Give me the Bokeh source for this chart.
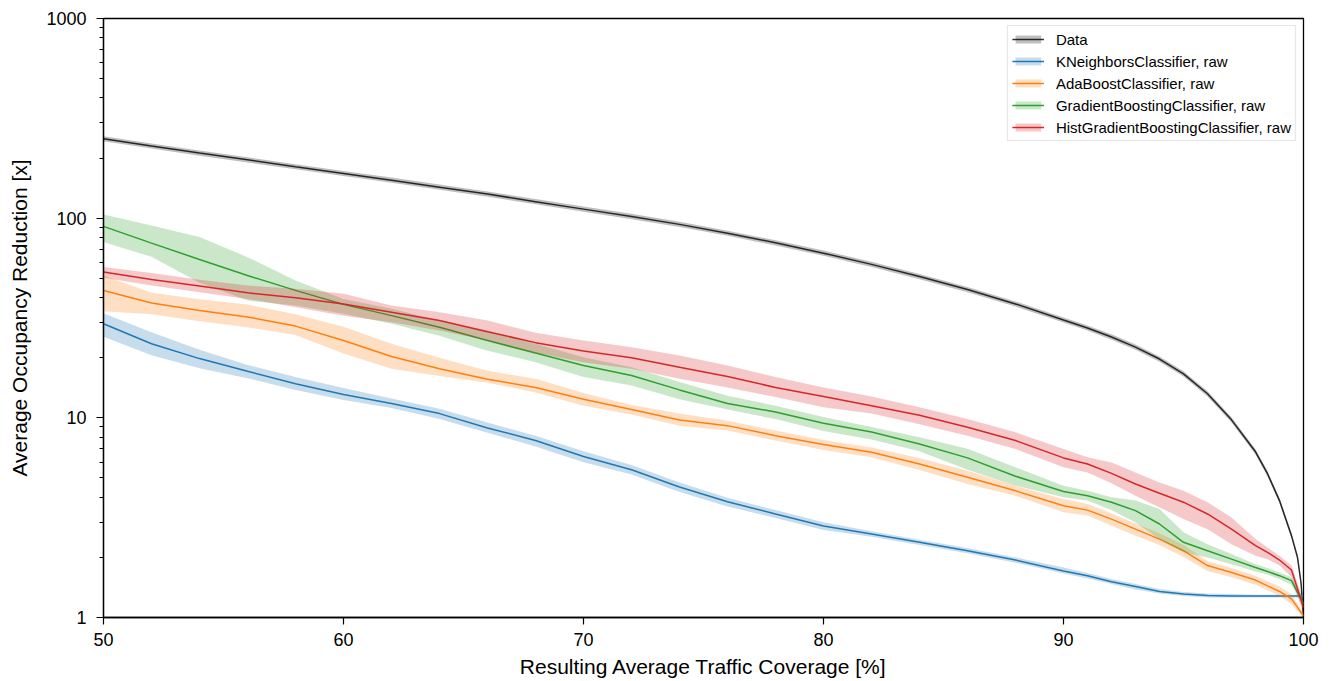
from bokeh.plotting import figure
from bokeh.models import Range1d, FixedTicker, Legend, LegendItem, PrintfTickFormatter
from bokeh.embed import file_html
from bokeh.resources import INLINE

# ---------------- data ----------------
coverage = [50, 52, 54, 56, 58, 60, 62, 64, 66, 68, 70, 72, 74, 76, 78, 80, 82, 84, 86, 88,
            90, 91, 92, 93, 94, 95, 96, 97, 98, 98.5, 99, 99.5, 100]

data_coverage = [50, 52, 54, 56, 58, 60, 62, 64, 66, 68, 70, 72, 74, 76, 78, 80, 82, 84, 86, 88,
                 90, 91, 92, 93, 94, 95, 96, 97, 98, 98.5, 99, 99.5, 99.75, 99.9, 100]
data_mean = [250, 230, 212, 196, 181, 167.5, 155, 143, 132, 121, 111, 102, 93.1, 84.1, 75.3, 66.8, 58.7, 51.0,
             43.9, 37.2, 30.9, 28.2, 25.4, 22.6, 19.7, 16.6, 13.2, 9.77, 6.76, 5.25, 3.85, 2.57, 2.0, 1.48, 1.0]
data_lo = [242.5, 223, 205.6, 190, 175.6, 162.5, 150.4, 138.7, 128, 117.4, 107.7, 98.9, 90.3, 81.6, 73.0, 64.8,
           56.9, 49.5, 42.6, 36.1, 30.0, 27.4, 24.6, 21.9, 19.1, 16.1, 12.8, 9.48, 6.56, 5.09, 3.73, 2.49, 1.94,
           1.44, 0.97]
data_hi = [257.5, 236.9, 218.4, 201.9, 186.4, 172.5, 159.7, 147.3, 136, 124.6, 114.3, 105.1, 95.9, 86.6, 77.6,
           68.8, 60.5, 52.5, 45.2, 38.3, 31.8, 29.0, 26.2, 23.3, 20.3, 17.1, 13.6, 10.06, 6.96, 5.41, 3.97, 2.65,
           2.06, 1.52, 1.03]

knn_mean = [29.6, 23.5, 19.8, 17.1, 14.8, 13.1, 11.8, 10.5, 8.9, 7.7, 6.4, 5.5, 4.5, 3.8, 3.30, 2.87, 2.62,
            2.38, 2.16, 1.94, 1.71, 1.62, 1.51, 1.43, 1.35, 1.31, 1.29, 1.28, 1.28, 1.28, 1.28, 1.28, 1.28]
knn_lo = [25.5, 20.6, 17.7, 15.8, 13.8, 12.3, 11.2, 9.87, 8.43, 7.18, 6.0, 5.2, 4.25, 3.6, 3.15, 2.74, 2.54,
          2.31, 2.10, 1.88, 1.66, 1.57, 1.47, 1.38, 1.32, 1.28, 1.26, 1.26, 1.26, 1.26, 1.26, 1.26, 1.26]
knn_hi = [33.4, 26.8, 21.9, 18.4, 16.0, 14.1, 12.5, 11.1, 9.47, 8.14, 6.8, 5.8, 4.75, 3.98, 3.45, 3.0, 2.70,
          2.45, 2.23, 2.0, 1.78, 1.67, 1.56, 1.47, 1.39, 1.34, 1.32, 1.31, 1.30, 1.30, 1.30, 1.30, 1.30]

ada_mean = [43.4, 37.6, 34.5, 32.0, 28.8, 24.4, 20.3, 17.6, 15.6, 14.2, 12.4, 11.0, 9.76, 9.14, 8.14, 7.35, 6.72,
            5.87, 5.04, 4.31, 3.63, 3.45, 3.11, 2.77, 2.47, 2.16, 1.82, 1.68, 1.54, 1.44, 1.35, 1.24, 1.02]
ada_lo = [34.2, 33.0, 30.5, 28.4, 26.0, 21.0, 17.6, 16.2, 15.0, 13.4, 11.5, 10.4, 9.14, 8.63, 7.69, 6.90, 6.34,
          5.48, 4.66, 4.07, 3.37, 3.24, 2.88, 2.57, 2.31, 2.01, 1.71, 1.59, 1.46, 1.37, 1.28, 1.17, 0.99]
ada_hi = [51.6, 42.3, 39.2, 36.9, 33.0, 28.6, 23.5, 20.0, 17.2, 15.7, 13.3, 11.6, 10.5, 9.68, 8.63, 7.74, 7.11,
          6.3, 5.43, 4.57, 3.92, 3.70, 3.32, 2.96, 2.64, 2.31, 1.92, 1.77, 1.62, 1.52, 1.43, 1.31, 1.05]

gb_mean = [91, 75, 62.1, 51.6, 43.5, 37, 32.5, 28.4, 24.4, 21.1, 18.3, 16.3, 13.8, 11.8, 10.7, 9.4, 8.5, 7.4,
           6.3, 5.1, 4.28, 4.07, 3.78, 3.43, 2.94, 2.38, 2.16, 1.96, 1.78, 1.70, 1.62, 1.53, 1.17]
gb_lo = [75.9, 64, 47.5, 38.7, 36.5, 33.2, 29.6, 25.8, 21.7, 19.0, 16.0, 14.5, 12.4, 11.0, 9.86, 8.6, 7.8, 6.8,
         5.5, 4.57, 4.0, 3.85, 3.45, 2.99, 2.47, 2.12, 2.0, 1.85, 1.70, 1.64, 1.56, 1.46, 1.10]
gb_hi = [104.4, 92, 80.5, 63.8, 48.8, 39.4, 35.2, 30.7, 27.4, 23.5, 20.1, 17.9, 15.1, 12.9, 11.5, 10.1, 9.0,
         8.0, 7.0, 5.65, 4.57, 4.31, 4.0, 3.85, 3.49, 2.67, 2.33, 2.08, 1.85, 1.77, 1.68, 1.59, 1.24]

hgb_mean = [53.7, 49.3, 45.7, 42.3, 39.9, 37.2, 33.8, 30.7, 27.0, 23.8, 21.6, 20, 17.9, 16.1, 14.2, 12.8, 11.5,
            10.3, 8.97, 7.7, 6.3, 5.87, 5.27, 4.66, 4.19, 3.78, 3.30, 2.77, 2.29, 2.12, 1.94, 1.73, 1.12]
hgb_lo = [50.3, 46, 42.6, 39.4, 35.8, 32.5, 30.1, 27.4, 24.4, 21.2, 19.0, 17.6, 15.7, 14.2, 12.7, 11.3, 10.5,
          9.3, 8.14, 6.98, 5.65, 5.33, 4.70, 4.07, 3.56, 3.11, 2.77, 2.33, 2.04, 1.96, 1.82, 1.59, 1.04]
hgb_hi = [56.9, 53.1, 49.1, 46, 44.3, 41.8, 36.5, 33.8, 30.7, 26.7, 24.4, 22.6, 20.5, 18.3, 16.0, 14.2, 12.8,
          11.3, 9.87, 8.47, 6.98, 6.34, 5.98, 5.33, 4.75, 4.31, 3.78, 3.17, 2.47, 2.24, 2.04, 1.82, 1.21]

x_ticks = [50, 60, 70, 80, 90, 100]
y_ticks = [1, 10, 100, 1000]
y_minor = [2, 3, 4, 5, 6, 7, 8, 9, 20, 30, 40, 50, 60, 70, 80, 90, 200, 300, 400, 500, 600, 700, 800, 900]

FONT = "Liberation Sans"

p = figure(width=1336, height=680, x_range=Range1d(50, 100), y_range=Range1d(1, 1000),
           y_axis_type="log", output_backend="svg", toolbar_location=None,
           min_border_left=103, min_border_right=33, min_border_top=18, min_border_bottom=63)
p.xgrid.visible = False
p.ygrid.visible = False
p.outline_line_color = "black"
p.outline_line_width = 1.3
p.outline_line_alpha = 1.0
p.background_fill_color = "white"
p.border_fill_color = "white"

series = [
    ("Data", data_coverage, data_mean, data_lo, data_hi, "#000000"),
    ("KNeighborsClassifier, raw", coverage, knn_mean, knn_lo, knn_hi, "#1f77b4"),
    ("AdaBoostClassifier, raw", coverage, ada_mean, ada_lo, ada_hi, "#ff7f0e"),
    ("GradientBoostingClassifier, raw", coverage, gb_mean, gb_lo, gb_hi, "#2ca02c"),
    ("HistGradientBoostingClassifier, raw", coverage, hgb_mean, hgb_lo, hgb_hi, "#d62728"),
]

items = []
for label, xs, mean, lo, hi, color in series:
    band = p.varea(x=xs, y1=lo, y2=hi, fill_color=color, fill_alpha=0.25)
    ln = p.line(x=xs, y=mean, line_color=color, line_width=1.5,
                line_alpha=0.8 if label == "Data" else 1.0)
    items.append(LegendItem(label=label, renderers=[band, ln]))

legend = Legend(items=items, location="top_right")
legend.label_text_font = FONT
legend.label_text_font_size = "15px"
legend.label_text_color = "black"
legend.glyph_width = 32
legend.glyph_height = 10
legend.label_height = 18
legend.label_standoff = 12
legend.spacing = 4
legend.padding = 4
legend.margin = 7
legend.border_line_color = "#cccccc"
legend.border_line_width = 1
legend.background_fill_alpha = 0.8
p.add_layout(legend)

# axes
p.xaxis.ticker = FixedTicker(ticks=x_ticks, minor_ticks=[])
p.yaxis.ticker = FixedTicker(ticks=y_ticks, minor_ticks=y_minor)
p.yaxis.formatter = PrintfTickFormatter(format="%d")
p.xaxis.axis_label = "Resulting Average Traffic Coverage [%]"
p.yaxis.axis_label = "Average Occupancy Reduction [x]"
for ax in (p.xaxis[0], p.yaxis[0]):
    ax.axis_label_text_font = FONT
    ax.axis_label_text_font_size = "21px"
    ax.axis_label_text_font_style = "normal"
    ax.axis_label_text_color = "black"
    ax.major_label_text_font = FONT
    ax.major_label_text_font_size = "18px"
    ax.major_label_text_color = "black"
    ax.axis_line_color = "black"
    ax.axis_line_width = 1.3
    ax.major_tick_line_color = "black"
    ax.major_tick_line_width = 1.2
    ax.minor_tick_line_color = "black"
    ax.minor_tick_line_width = 1.0
    ax.major_tick_out = 7
    ax.major_tick_in = 0
    ax.minor_tick_out = 4
    ax.minor_tick_in = 0
p.xaxis.major_label_standoff = 8
p.yaxis.major_label_standoff = 10
p.xaxis.axis_label_standoff = 6
p.yaxis.axis_label_standoff = 12

open("out.html", "w").write(file_html(p, INLINE))
